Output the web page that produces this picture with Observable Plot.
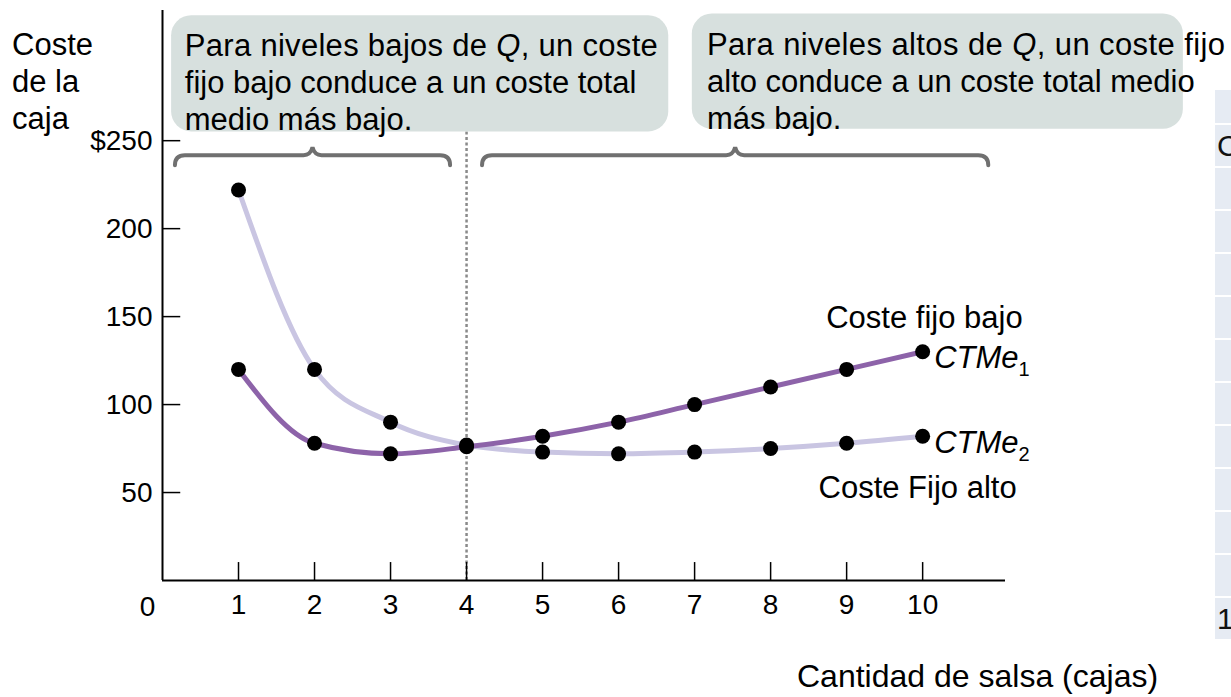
<!DOCTYPE html>
<html>
<head>
<meta charset="utf-8">
<script src="https://cdn.jsdelivr.net/npm/d3@7"></script>
<script src="https://cdn.jsdelivr.net/npm/@observablehq/plot@0.6"></script>
<style>
  body { margin: 0; background: #fff; font-family: "Liberation Sans", Arial, sans-serif; }
  #wrap { position: relative; width: 1231px; height: 697px; overflow: hidden; }
  #side { position: absolute; left: 1215px; top: 90px; width: 40px; }
  #side div { background: #e6ebf3; margin-bottom: 2px; font-size: 30px; line-height: 41px; height: 41px; padding-left: 2px; color: #111; }
</style>
</head>
<body>
<div id="wrap"></div>
<script>
// Average total cost per case of salsa, by quantity produced (cases)
const quantity = [1, 2, 3, 4, 5, 6, 7, 8, 9, 10];
const lowFixedCost = [120, 78, 72, 76, 82, 90, 100, 110, 120, 130];   // CTMe1
const highFixedCost = [222, 120, 90, 77, 73, 72, 73, 75, 78, 82];     // CTMe2

const xTicks = [1, 2, 3, 4, 5, 6, 7, 8, 9, 10];
const yTicks = [50, 100, 150, 200, 250];
const yTickLabels = ["50", "100", "150", "200", "$250"];

const crossoverQ = 4;

const yAxisTitle = ["Coste", "de la", "caja"];
const xAxisTitle = "Cantidad de salsa (cajas)";
const lowLabel = "Coste fijo bajo";
const highLabel = "Coste Fijo alto";

// Callout text: each line is a list of [text, italic?] runs
const calloutLow = [
  [["Para niveles bajos de ", false], ["Q", true], [", un coste", false]],
  [["fijo bajo conduce a un coste total", false]],
  [["medio más bajo.", false]]
];
const calloutHigh = [
  [["Para niveles altos de ", false], ["Q", true], [", un coste fijo", false]],
  [["alto conduce a un coste total medio", false]],
  [["más bajo.", false]]
];
// Quantity ranges covered by the two braces
const braceRanges = [[0.17, 3.79], [4.21, 10.87]];

// Partial side table (cropped at the page edge)
const sideCells = ["", "C", "", "", "", "", "", "", "", "", "", "", "1"];

const lowRows = quantity.map((q, i) => ({q, c: lowFixedCost[i]}));
const highRows = quantity.map((q, i) => ({q, c: highFixedCost[i]}));
const yLabelOf = new Map(yTicks.map((t, i) => [t, yTickLabels[i]]));

const FONT = "'Liberation Sans', Arial, Helvetica, sans-serif";
const TEXT = 31, TICK = 28;
const XMAX = 11.09, YMAX = 324;

const chart = Plot.plot({
  width: 1231,
  height: 697,
  marginLeft: 162,
  marginRight: 226,
  marginTop: 10,
  marginBottom: 117,
  style: {fontFamily: FONT, fontSize: TICK + "px", color: "#000", background: "transparent", overflow: "visible"},
  x: {domain: [0, XMAX], label: null},
  y: {domain: [0, YMAX], label: null},
  marks: [
    // crossover guide
    Plot.ruleX([crossoverQ], {y1: 0, y2: 255, stroke: "#8a8a8a", strokeWidth: 2.5, strokeDasharray: "3,2.5"}),
    // axis lines and inward ticks
    Plot.ruleY([0], {x1: 0, x2: XMAX, stroke: "#000", strokeWidth: 2}),
    Plot.ruleX([0], {y1: 0, y2: YMAX, stroke: "#000", strokeWidth: 2}),
    Plot.ruleY(yTicks, {x1: 0, x2: 0.24, stroke: "#000", strokeWidth: 1.5}),
    Plot.ruleX(xTicks, {y1: 0, y2: 10.2, stroke: "#000", strokeWidth: 1.5}),
    Plot.axisY(yTicks, {tickSize: 0, tickPadding: 10, tickFormat: d => yLabelOf.get(d), fontSize: TICK, label: null}),
    Plot.axisX(xTicks, {tickSize: 0, tickPadding: 14, fontSize: TICK, label: null}),
    Plot.text([0], {x: d => d, y: 0, text: d => String(d), dx: -15, dy: 27, fontSize: TICK, fill: "#000"}),
    // cost curves
    Plot.line(highRows, {x: "q", y: "c", curve: "monotone-x", stroke: "#c9c5e2", strokeWidth: 5}),
    Plot.line(lowRows, {x: "q", y: "c", curve: "monotone-x", stroke: "#8d63a9", strokeWidth: 5}),
    Plot.dot(highRows, {x: "q", y: "c", r: 7.5, fill: "#000"}),
    Plot.dot(lowRows, {x: "q", y: "c", r: 7.5, fill: "#000"}),
    // series descriptions
    Plot.text([lowRows[lowRows.length - 1]], {x: "q", y: "c", text: () => lowLabel, textAnchor: "end", dx: 100, dy: -34, fontSize: TEXT, fill: "#000"}),
    Plot.text([highRows[highRows.length - 1]], {x: "q", y: "c", text: () => highLabel, textAnchor: "end", dx: 94, dy: 52, fontSize: TEXT, fill: "#000"})
  ]
});

document.getElementById("wrap").appendChild(chart);

// Annotations positioned through the chart's own scales
const sx = chart.scale("x"), sy = chart.scale("y");
const X = v => sx.apply(v), Y = v => sy.apply(v);
const svg = d3.select(chart);
const ann = svg.append("g")
  .attr("font-family", FONT).attr("font-size", TEXT).attr("text-anchor", "start");

function callout(lines, box, textX, baselines, firstLineWidth) {
  ann.append("rect")
    .attr("x", X(box.x1)).attr("y", Y(box.y2))
    .attr("width", X(box.x2) - X(box.x1)).attr("height", Y(box.y1) - Y(box.y2))
    .attr("rx", 20).attr("fill", "#d7e0de");
  lines.forEach((runs, i) => {
    const t = ann.append("text").attr("x", X(textX)).attr("y", Y(baselines[i])).attr("fill", "#000");
    if (i === 0) t.attr("textLength", firstLineWidth).attr("lengthAdjust", "spacing");
    runs.forEach(([s, it]) => t.append("tspan").attr("font-style", it ? "italic" : "normal").text(s));
  });
}
callout(calloutLow, {x1: 0.12, x2: 6.66, y1: 255, y2: 321}, 0.30, [297.7, 276.7, 255.7], 473);
callout(calloutHigh, {x1: 6.97, x2: 13.43, y1: 256.5, y2: 322}, 7.17, [298.3, 277.3, 256.3], 518);

// Curly braces spanning the two quantity ranges
braceRanges.forEach(([a, b]) => {
  const x1 = X(a), x2 = X(b), m = (x1 + x2) / 2, y = Y(241.5);
  const p = d3.path();
  p.moveTo(x1, y + 10);
  p.quadraticCurveTo(x1, y, x1 + 10, y);
  p.lineTo(m - 9, y);
  p.quadraticCurveTo(m - 2, y, m, y - 8);
  p.quadraticCurveTo(m + 2, y, m + 9, y);
  p.lineTo(x2 - 10, y);
  p.quadraticCurveTo(x2, y, x2, y + 10);
  ann.append("path").attr("d", p.toString()).attr("fill", "none")
    .attr("stroke", "#707070").attr("stroke-width", 4).attr("stroke-linecap", "round");
});

// Curve names with subscripts, next to the last point of each curve
[[lowRows, "1"], [highRows, "2"]].forEach(([rows, sub]) => {
  const last = rows[rows.length - 1];
  const t = ann.append("text").attr("x", X(last.q) + 12).attr("y", Y(last.c) + 17).attr("fill", "#000");
  t.append("tspan").attr("font-style", "italic").text("CTMe");
  t.append("tspan").attr("font-size", 20).attr("dy", 8).text(sub);
});

// Axis titles
const yt = ann.append("text").attr("fill", "#000");
yAxisTitle.forEach((s, i) => yt.append("tspan").attr("x", 12).attr("y", Y(YMAX) + 45 + i * 37).text(s));
ann.append("text").attr("x", X(XMAX) - 208).attr("y", Y(0) + 107).attr("fill", "#000")
  .attr("font-size", 32).text(xAxisTitle);

// Cropped side table
const side = d3.select("#wrap").append("div").attr("id", "side");
side.selectAll("div").data(sideCells).join("div")
  .style("height", (d, i) => i === 0 ? "33px" : "41px")
  .text(d => d);
</script>
</body>
</html>
